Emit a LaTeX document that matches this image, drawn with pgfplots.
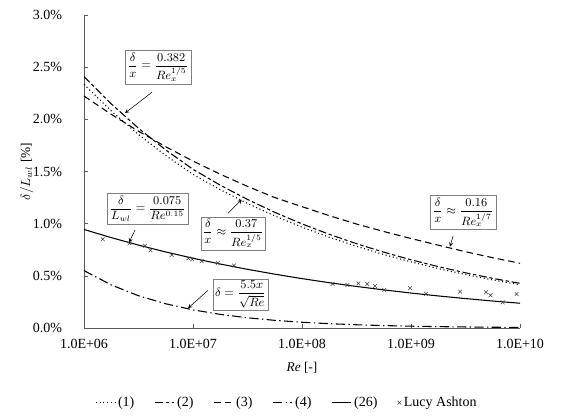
\documentclass[border=0pt]{standalone}
\usepackage{fontspec}
\setmainfont{Liberation Serif}
\usepackage{pgfplots}
\pgfplotsset{compat=1.18}
\begin{document}
\begin{tikzpicture}
\begin{axis}[
  name=ax,
  width=327pt, height=234.75pt, scale only axis,
  xmode=log, xmin=1e6, xmax=1e10, ymin=0, ymax=3,
  axis x line*=bottom, axis y line*=left,
  axis line style={gray!70!black,-},
  every tick/.style={gray!70!black},
  tick align=inside, major tick length=3pt,
  xminorticks=false,
  xtick={1e6,1e7,1e8,1e9,1e10},
  xticklabels={1.0E+06,1.0E+07,1.0E+08,1.0E+09,1.0E+10},
  x tick label style={yshift=-5pt},
  ytick={0,0.5,1,1.5,2,2.5,3},
  yticklabels={0.0\%,0.5\%,1.0\%,1.5\%,2.0\%,2.5\%,3.0\%},
  y tick label style={xshift=-13pt},
  tick label style={font=\fontsize{10.5}{12}\selectfont},
  xlabel={\textit{Re} [-]},
  xlabel style={at={([yshift=-30pt]axis description cs:0.5,0)}, anchor=center},
  ylabel={$\delta/L_{wl}$ [\%]},
  ylabel style={at={([xshift=-43pt]axis description cs:0,0.5)}, anchor=center, rotate=0},
  legend style={at={([xshift=-11pt,yshift=-56pt]axis description cs:0.5,0)}, anchor=center,
    legend columns=6, draw=none, font=\fontsize{10.5}{12}\selectfont,
    /tikz/every even column/.append style={column sep=13pt},
    /tikz/every odd column/.append style={column sep=0pt}},
  legend image code/.code={\draw[mark repeat=2,mark phase=2,#1] plot coordinates {(0cm,0cm) (0.25cm,0cm) (0.5cm,0cm)};},
  legend cell align=left,
  clip=false,
]
% (1)
\addplot[black, dotted, line width=0.8pt] coordinates {
(1e6,2.3345)(1.7783e6,2.0807)(3.1623e6,1.8544)(5.6234e6,1.6527)
(1e7,1.4730)(1.7783e7,1.3259)(3.1623e7,1.1934)(5.6234e7,1.0741)
(1e8,0.9666)(1.7783e8,0.8697)(3.1623e8,0.7826)(5.6234e8,0.7041)
(1e9,0.6333)(1.7783e9,0.5696)(3.1623e9,0.5124)(5.6234e9,0.4608)
(1e10,0.4144)};
\addlegendentry{(1)}
% (2)
\addplot[black, line width=0.8pt, dash pattern=on 6pt off 2pt on 2.5pt off 2pt] coordinates {
(1e6,2.4103)(1.7783e6,2.1481)(3.1623e6,1.9145)(5.6234e6,1.7063)
(1e7,1.5208)(1.7783e7,1.3690)(3.1623e7,1.2322)(5.6234e7,1.1089)
(1e8,0.9979)(1.7783e8,0.8980)(3.1623e8,0.8079)(5.6234e8,0.7269)
(1e9,0.6538)(1.7783e9,0.5882)(3.1623e9,0.5290)(5.6234e9,0.4757)
(1e10,0.4278)};
\addlegendentry{(2)}
% (3)
\addplot[black, line width=0.8pt, dash pattern=on 5pt off 3pt] coordinates {
(1e6,2.2232)(1.7783e6,2.0482)(3.1623e6,1.8861)(5.6234e6,1.7371)
(1e7,1.6000)(1.7783e7,1.4737)(3.1623e7,1.3573)(5.6234e7,1.2502)
(1e8,1.1630)(1.7783e8,1.0765)(3.1623e8,0.9964)(5.6234e8,0.9249)
(1e9,0.8577)(1.7783e9,0.7938)(3.1623e9,0.7311)(5.6234e9,0.6735)
(1e10,0.6203)};
\addlegendentry{(3)}
% (4)
\addplot[black, line width=0.8pt, dash pattern=on 7pt off 2.5pt on 1pt off 2.5pt] coordinates {
(1e6,0.55)(1.7783e6,0.41244)(3.1623e6,0.30929)(5.6234e6,0.23193)
(1e7,0.17393)(1.7783e7,0.13043)(3.1623e7,0.09781)(5.6234e7,0.07334)
(1e8,0.055)(1.7783e8,0.041244)(3.1623e8,0.030929)(5.6234e8,0.023193)
(1e9,0.017393)(1.7783e9,0.013043)(3.1623e9,0.009781)(5.6234e9,0.007334)
(1e10,0.0055)};
\addlegendentry{(4)}
% (26)
\addplot[black, line width=0.8pt] coordinates {
(1e6,0.9442)(1.7783e6,0.8661)(3.1623e6,0.7945)(5.6234e6,0.7287)
(1e7,0.6684)(1.7783e7,0.6131)(3.1623e7,0.5624)(5.6234e7,0.5159)
(1e8,0.4732)(1.7783e8,0.4341)(3.1623e8,0.3982)(5.6234e8,0.3652)
(1e9,0.3350)(1.7783e9,0.3073)(3.1623e9,0.2819)(5.6234e9,0.2586)
(1e10,0.2372)};
\addlegendentry{(26)}
% Lucy Ashton
\addplot[only marks, mark=x, mark size=2pt, black!75, thin] coordinates {
(1.485e6,0.850)(2.61e6,0.812)(3.63e6,0.789)(4.07e6,0.745)(6.38e6,0.700)
(9.06e6,0.668)(9.84e6,0.658)(1.20e7,0.642)(1.69e7,0.623)(2.38e7,0.599)
(1.91e8,0.422)(2.61e8,0.412)(3.29e8,0.428)(3.97e8,0.422)(4.68e8,0.403)
(5.69e8,0.364)(9.8e8,0.382)(1.37e9,0.328)(2.82e9,0.348)(4.88e9,0.343)
(5.36e9,0.314)(6.93e9,0.246)(9.3e9,0.326)};
\addlegendentry{Lucy Ashton}
% annotations
\draw[black, ->, >=stealth] (axis cs:4.21e6,2.26) -- (axis cs:2.38e6,2.06);
\node[draw=gray, fill=white, inner sep=2pt, font=\small] at (axis cs:4.77e6,2.50)
  {$\displaystyle \frac{\delta}{x}=\frac{0.382}{Re_x^{1/5}}$};
\draw[black, ->, >=stealth] (axis cs:2.94e6,0.94) -- (axis cs:2.59e6,0.82);
\node[draw=gray, fill=white, inner sep=2pt, font=\small] at (axis cs:3.83e6,1.145)
  {$\displaystyle \frac{\delta}{L_{wl}}=\frac{0.075}{Re^{0.15}}$};
\draw[black, ->, >=stealth] (axis cs:2.09e7,1.10) -- (axis cs:2.8e7,1.23);
\node[draw=gray, fill=white, inner sep=1.5pt, font=\small] at (axis cs:2.33e7,0.905)
  {$\displaystyle \frac{\delta}{x}\approx\frac{0.37}{Re_x^{1/5}}$};
\draw[black, ->, >=stealth] (axis cs:1.37e7,0.36) -- (axis cs:9.0e6,0.19);
\node[draw=gray, fill=white, inner sep=1.5pt, font=\small] at (axis cs:2.73e7,0.32)
  {$\displaystyle \delta=\frac{5.5x}{\sqrt{Re}}$};
\draw[black, ->, >=stealth] (axis cs:2.43e9,0.88) -- (axis cs:2.28e9,0.78);
\node[draw=gray, fill=white, inner sep=2pt, font=\small] at (axis cs:3.0e9,1.107)
  {$\displaystyle \frac{\delta}{x}\approx\frac{0.16}{Re_x^{1/7}}$};
\end{axis}
\pgfresetboundingbox
\path ([shift={(-63pt,-66pt)}]ax.south west) rectangle ([shift={(44.25pt,11.25pt)}]ax.north east);
\end{tikzpicture}
\end{document}
